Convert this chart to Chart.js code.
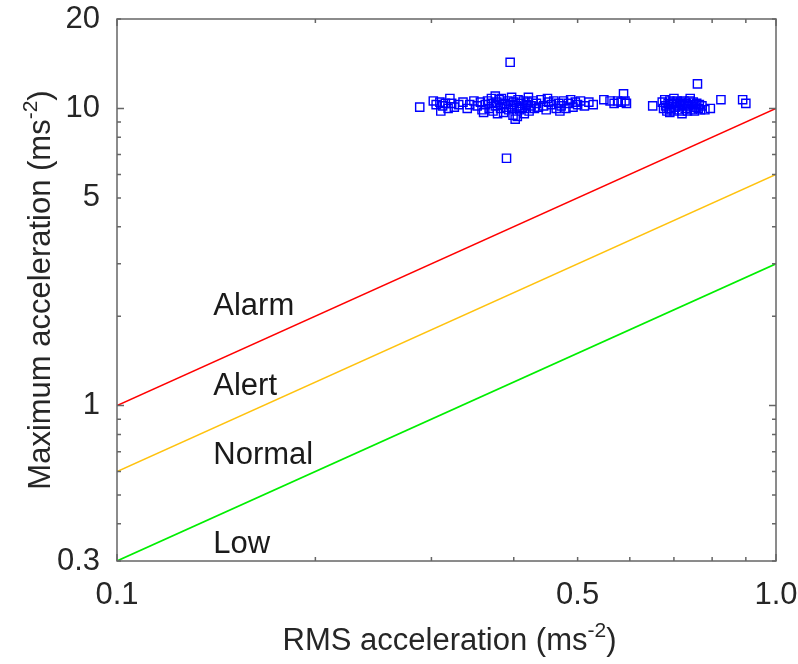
<!DOCTYPE html>
<html>
<head>
<meta charset="utf-8">
<script src="https://cdn.jsdelivr.net/npm/chart.js@4/dist/chart.umd.min.js"></script>
<style>
  html, body { margin: 0; padding: 0; background: #ffffff; }
  #wrap { width: 798px; height: 664px; }
</style>
</head>
<body>
<div id="wrap"><canvas id="c" width="798" height="664"></canvas></div>
<script>
// Measured RMS vs peak acceleration (ms^-2)
const rmsAcc = [
  0.288, 0.302, 0.305, 0.309, 0.312, 0.315, 0.318, 0.322, 0.325, 0.330,
  0.335, 0.340, 0.343, 0.348, 0.352, 0.356, 0.358, 0.362, 0.365, 0.367,
  0.370, 0.372, 0.375, 0.375, 0.377, 0.380, 0.382, 0.384, 0.386, 0.388,
  0.390, 0.392, 0.393, 0.395, 0.390, 0.396, 0.398, 0.399, 0.400, 0.402,
  0.404, 0.406, 0.408, 0.410, 0.412, 0.414, 0.416, 0.418, 0.420, 0.422,
  0.425, 0.428, 0.430, 0.433, 0.436, 0.440, 0.444, 0.448, 0.452, 0.456,
  0.460, 0.464, 0.468, 0.472, 0.476, 0.480, 0.484, 0.488, 0.492, 0.496,
  0.500, 0.505, 0.512, 0.520, 0.528, 0.548, 0.560, 0.568, 0.575, 0.582,
  0.587, 0.590, 0.593, 0.650, 0.672, 0.675, 0.678, 0.680, 0.683, 0.686,
  0.688, 0.690, 0.693, 0.695, 0.698, 0.700, 0.703, 0.706, 0.708, 0.711,
  0.714, 0.717, 0.720, 0.722, 0.725, 0.728, 0.731, 0.734, 0.737, 0.740,
  0.743, 0.746, 0.749, 0.752, 0.755, 0.758, 0.760, 0.762, 0.765, 0.768,
  0.772, 0.780, 0.795, 0.825, 0.890, 0.900,
  0.310, 0.320, 0.360, 0.370, 0.378, 0.383, 0.397, 0.405, 0.415, 0.421,
  0.450, 0.470, 0.690, 0.700, 0.720, 0.741
];
const maxAcc = [
  10.1, 10.6, 10.3, 10.5, 10.2, 10.4, 10.0, 10.4, 10.1, 10.3,
  10.5, 10.0, 10.3, 10.6, 10.2, 10.5, 9.9, 10.3, 10.6, 10.0,
  10.4, 9.8, 10.2, 11.0, 10.5, 10.7, 10.0, 10.3, 9.7, 10.4,
  10.1, 10.6, 9.9, 14.3, 6.8, 10.3, 10.0, 9.5, 10.5, 9.2,
  10.2, 10.7, 9.9, 10.4, 10.1, 10.6, 10.0, 10.3, 10.5, 9.8,
  10.2, 10.6, 10.0, 10.4, 10.1, 10.7, 10.2, 9.9, 10.5, 10.3,
  10.6, 10.0, 10.4, 10.2, 10.6, 10.0, 10.4, 10.7, 10.1, 10.5,
  10.3, 10.6, 10.2, 10.5, 10.3, 10.7, 10.6, 10.4, 10.6, 10.5,
  11.2, 10.6, 10.4, 10.2, 10.5, 10.0, 10.7, 10.2, 9.8, 10.4,
  10.0, 10.6, 9.9, 10.3, 10.5, 9.8, 10.1, 10.4, 10.6, 9.9,
  10.2, 10.5, 9.8, 10.3, 10.6, 10.0, 10.4, 9.8, 10.2, 10.6,
  9.9, 10.3, 10.5, 9.8, 10.1, 10.4, 12.1, 10.0, 10.3, 9.9,
  10.2, 9.9, 10.0, 10.7, 10.7, 10.4,
  9.8, 10.8, 9.7, 10.8, 9.6, 10.8, 10.9, 9.4, 9.6, 10.9,
  10.8, 9.8, 9.7, 10.8, 9.6, 10.8
];

// Zone boundary lines, drawn across the full RMS range
const limitX = [0.1, 1.0];
const alarmLimit = [1, 10];
const alertLimit = [0.6, 6];
const normalLimit = [0.3, 3];

// Zone names and where they sit
const zoneNames = ['Alarm', 'Alert', 'Normal', 'Low'];
const zoneLabelX = 0.14;
const zoneLabelY = [2.16, 1.16, 0.68, 0.34];

// Axis ticks
const xTicks = [0.1, 0.2, 0.3, 0.4, 0.5, 0.6, 0.7, 0.8, 0.9, 1.0];
const xTickLabels = ['0.1', '', '', '', '0.5', '', '', '', '', '1.0'];
const yTicks = [0.3, 0.4, 0.5, 0.6, 0.7, 0.8, 0.9, 1, 2, 3, 4, 5, 6, 7, 8, 9, 10, 20];
const yTickLabels = ['0.3', '', '', '', '', '', '', '1', '', '', '', '5', '', '', '', '', '10', '20'];
const yMajor = [1, 10];
const xMajor = [0.1, 1.0];

const FONT = "'Liberation Sans', Arial, Helvetica, sans-serif";
const AXIS_COLOR = '#666666';
const TEXT_COLOR = '#262626';

function pairs(xs, ys) { return xs.map((x, i) => ({ x: x, y: ys[i] })); }
function labelFor(list, labels, v) {
  const i = list.findIndex(t => Math.abs(t - v) < 1e-9);
  return i >= 0 ? labels[i] : '';
}
function noOverhang(s) {
  s.paddingLeft = 0; s.paddingRight = 0; s.paddingTop = 0; s.paddingBottom = 0;
}

// Box, inward tick marks, zone names and axis titles
const decorPlugin = {
  id: 'decor',
  afterDraw(chart) {
    const ctx = chart.ctx;
    const a = chart.chartArea;
    const xs = chart.scales.x, ys = chart.scales.y;
    ctx.save();
    ctx.strokeStyle = AXIS_COLOR;
    ctx.lineWidth = 1.5;
    ctx.beginPath();
    xTicks.forEach(v => {
      const p = xs.getPixelForValue(v);
      const len = xMajor.some(m => Math.abs(m - v) < 1e-9) ? 7 : 4;
      ctx.moveTo(p, a.bottom); ctx.lineTo(p, a.bottom - len);
      ctx.moveTo(p, a.top); ctx.lineTo(p, a.top + len);
    });
    yTicks.forEach(v => {
      const p = ys.getPixelForValue(v);
      const len = yMajor.some(m => Math.abs(m - v) < 1e-9) ? 7 : 4;
      ctx.moveTo(a.left, p); ctx.lineTo(a.left + len, p);
      ctx.moveTo(a.right, p); ctx.lineTo(a.right - len, p);
    });
    ctx.stroke();
    ctx.strokeRect(a.left, a.top, a.right - a.left, a.bottom - a.top);

    // zone names
    ctx.fillStyle = '#1a1a1a';
    ctx.font = '31px ' + FONT;
    ctx.textAlign = 'left';
    ctx.textBaseline = 'middle';
    zoneNames.forEach((n, i) => {
      ctx.fillText(n, xs.getPixelForValue(zoneLabelX), ys.getPixelForValue(zoneLabelY[i]));
    });

    // axis titles with superscript unit
    function drawTitle(main, cx, cy, rot) {
      ctx.save();
      ctx.translate(cx, cy);
      ctx.rotate(rot);
      ctx.fillStyle = TEXT_COLOR;
      ctx.textAlign = 'left';
      ctx.textBaseline = 'alphabetic';
      const big = '31px ' + FONT, small = '21px ' + FONT;
      ctx.font = big; const w1 = ctx.measureText(main).width;
      ctx.font = small; const w2 = ctx.measureText('-2').width;
      ctx.font = big; const w3 = ctx.measureText(')').width;
      let x = -(w1 + w2 + w3) / 2;
      ctx.font = big; ctx.fillText(main, x, 0); x += w1;
      ctx.font = small; ctx.fillText('-2', x, -13); x += w2;
      ctx.font = big; ctx.fillText(')', x, 0);
      ctx.restore();
    }
    drawTitle('RMS acceleration (ms', (a.left + a.right) / 2 + 3, 650, 0);
    drawTitle('Maximum acceleration (ms', 50, (a.top + a.bottom) / 2, -Math.PI / 2);
    ctx.restore();
  }
};

new Chart(document.getElementById('c'), {
  type: 'scatter',
  data: {
    datasets: [
      {
        type: 'line', label: 'Alarm limit', data: pairs(limitX, alarmLimit),
        borderColor: '#ff0000', borderWidth: 1.6, pointRadius: 0, fill: false
      },
      {
        type: 'line', label: 'Alert limit', data: pairs(limitX, alertLimit),
        borderColor: '#ffc20e', borderWidth: 1.6, pointRadius: 0, fill: false
      },
      {
        type: 'line', label: 'Normal limit', data: pairs(limitX, normalLimit),
        borderColor: '#00ee00', borderWidth: 1.6, pointRadius: 0, fill: false
      },
      {
        label: 'Measurements', data: pairs(rmsAcc, maxAcc),
        pointStyle: 'rect', pointRadius: 5.8, pointBorderWidth: 1.4,
        borderColor: '#0000ff', backgroundColor: 'rgba(0,0,0,0)',
        pointBackgroundColor: 'rgba(0,0,0,0)', pointBorderColor: '#0000ff'
      }
    ]
  },
  options: {
    responsive: false,
    animation: false,
    devicePixelRatio: 1,
    layout: { padding: { top: 19, right: 22, left: 0, bottom: 0 } },
    plugins: { legend: { display: false }, tooltip: { enabled: false } },
    scales: {
      x: {
        type: 'logarithmic', min: 0.1, max: 1.0,
        grid: { display: false }, border: { display: false },
        afterBuildTicks: s => { s.ticks = xTicks.map(v => ({ value: v })); },
        afterFit: s => { s.height = 103; noOverhang(s); },
        ticks: {
          autoSkip: false, maxRotation: 0, minRotation: 0, padding: 8,
          color: TEXT_COLOR, font: { family: FONT, size: 31 },
          callback: v => labelFor(xTicks, xTickLabels, v)
        }
      },
      y: {
        type: 'logarithmic', min: 0.3, max: 20,
        grid: { display: false }, border: { display: false },
        afterBuildTicks: s => { s.ticks = yTicks.map(v => ({ value: v })); },
        afterFit: s => { s.width = 117; noOverhang(s); },
        ticks: {
          autoSkip: false, padding: 9,
          color: TEXT_COLOR, font: { family: FONT, size: 31 },
          callback: v => labelFor(yTicks, yTickLabels, v)
        }
      }
    }
  },
  plugins: [decorPlugin]
});
</script>
</body>
</html>
